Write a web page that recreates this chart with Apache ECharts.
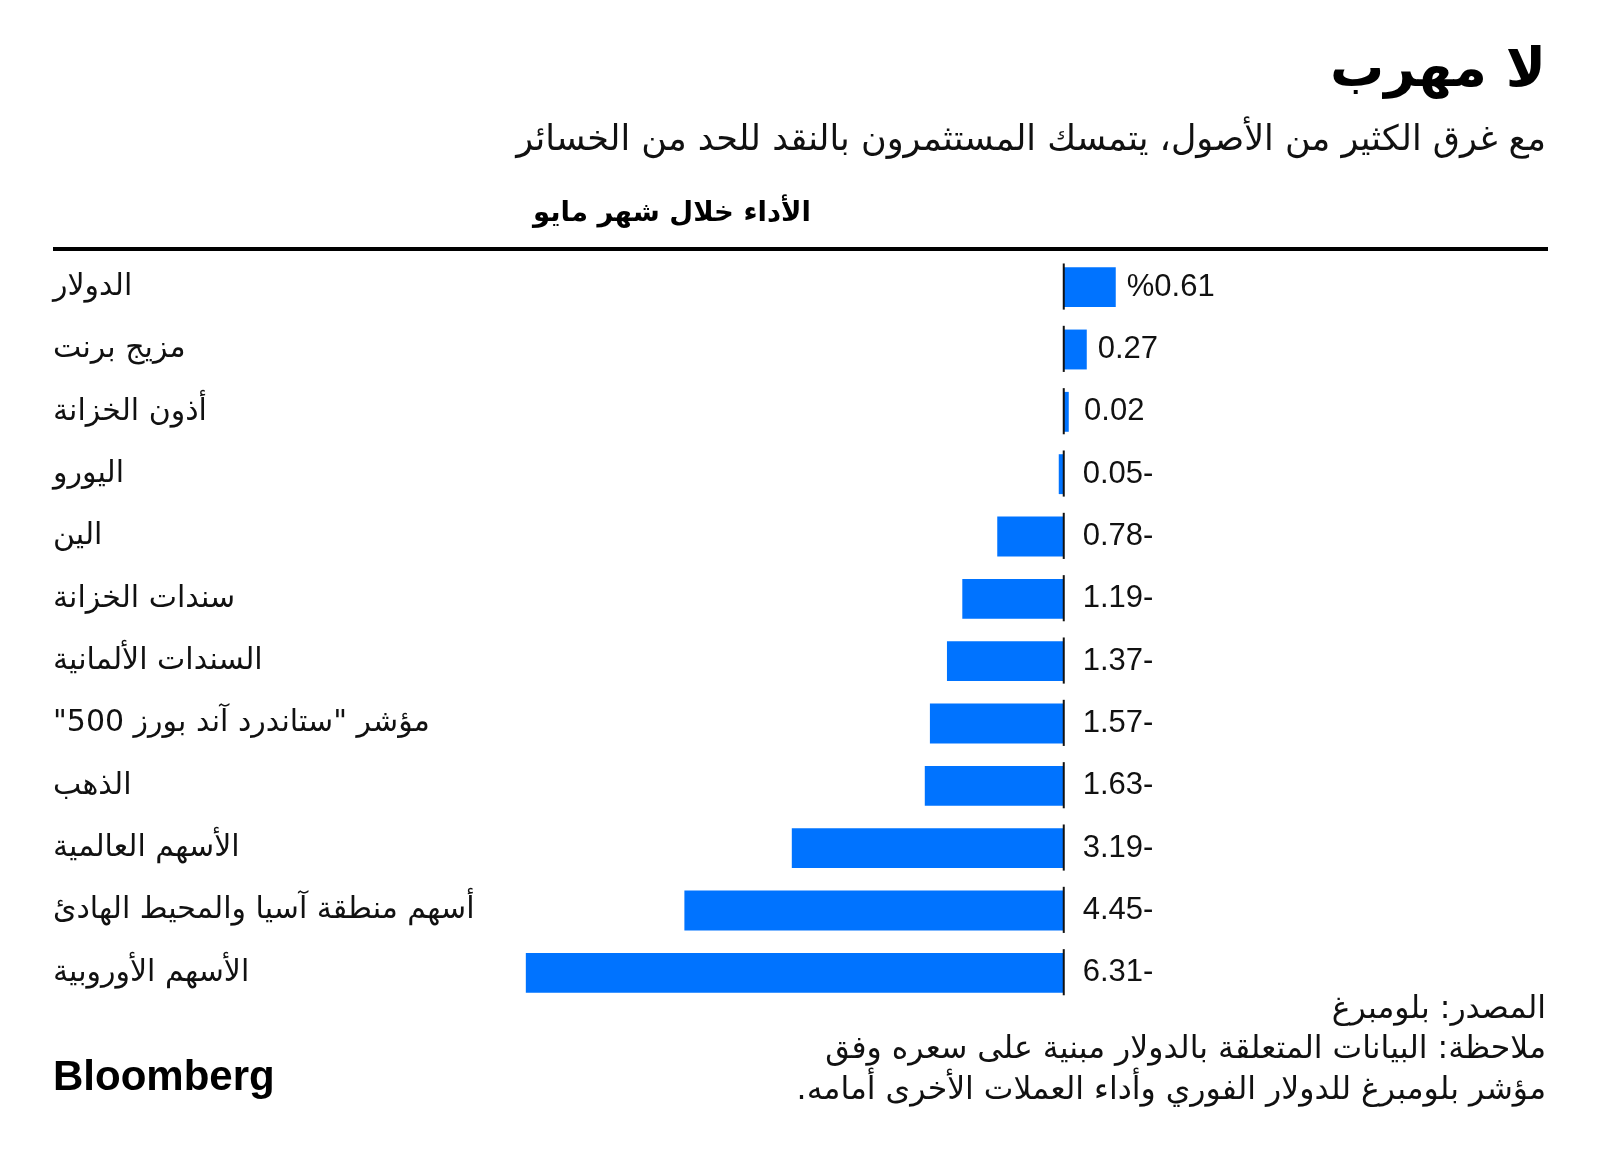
<!DOCTYPE html>
<html>
<head>
<meta charset="utf-8">
<script src="https://cdn.jsdelivr.net/npm/echarts@6/dist/echarts.min.js"></script>
<style>
html,body{margin:0;padding:0;background:#fff;}
#chart{width:1600px;height:1155px;direction:rtl;}
</style>
</head>
<body>
<div id="chart" dir="rtl"></div>
<script>
const categories = [
  'الدولار',
  'مزيج برنت',
  'أذون الخزانة',
  'اليورو',
  'الين',
  'سندات الخزانة',
  'السندات الألمانية',
  'مؤشر "ستاندرد آند بورز 500"',
  'الذهب',
  'الأسهم العالمية',
  'أسهم منطقة آسيا والمحيط الهادئ',
  'الأسهم الأوروبية'
];
const values = [0.61, 0.27, 0.02, -0.05, -0.78, -1.19, -1.37, -1.57, -1.63, -3.19, -4.45, -6.31];

const titleText = 'لا مهرب';
const subtitleText = 'مع غرق الكثير من الأصول، يتمسك المستثمرون بالنقد للحد من الخسائر';
const headerText = 'الأداء خلال شهر مايو';
const sourceText = 'المصدر: بلومبرغ';
const noteLines = [
  'ملاحظة: البيانات المتعلقة بالدولار مبنية على سعره وفق',
  'مؤشر بلومبرغ للدولار الفوري وأداء العملات الأخرى أمامه.'
];
const brandText = 'Bloomberg';

const BLUE = '#0073ff';
const AR = '"DejaVu Sans", "Noto Sans", sans-serif';
const NUM = '"Liberation Sans", Arial, sans-serif';

function fmt(v, i) {
  const s = Math.abs(v).toFixed(2);
  if (i === 0) return '%' + s;
  return v < 0 ? '-' + s : s;
}

const barData = values.map((v, i) => ({
  value: v,
  label: {
    show: true,
    position: 'right',
    distance: v < 0 ? 19 : Math.max(11, 17 - v * 85),
    formatter: () => fmt(v, i),
    fontFamily: NUM,
    fontSize: 31,
    color: '#111'
  }
}));

const chart = echarts.init(document.getElementById('chart'), null, {renderer: 'canvas'});
const gridLeft = 467;
chart.setOption({
  animation: false,
  backgroundColor: '#fff',
  grid: {left: gridLeft, right: 451, top: 256, bottom: 151, containLabel: false},
  xAxis: {
    type: 'value', min: -7, max: 1,
    axisLine: {show: false}, axisTick: {show: false},
    axisLabel: {show: false}, splitLine: {show: false}
  },
  yAxis: {
    type: 'category', inverse: true, data: categories,
    axisLine: {show: false, onZero: false}, axisTick: {show: false},
    axisLabel: {
      align: 'left', margin: gridLeft - 53,
      fontFamily: AR, fontSize: 30, color: '#111',
      padding: [0, 0, 14, 0]
    }
  },
  series: [
    {
      type: 'bar', data: barData, barCategoryGap: '36%', barMinHeight: 5,
      itemStyle: {color: BLUE}, z: 2
    },
    {
      type: 'custom', z: 3,
      data: categories.map((c, i) => [0, i]),
      encode: {x: 0, y: 1},
      renderItem: function (params, api) {
        const p = api.coord([0, api.value(1)]);
        const h = api.size([0, 1])[1];
        return {
          type: 'line',
          shape: {x1: p[0], y1: p[1] - h * 0.38, x2: p[0], y2: p[1] + h * 0.36},
          style: {stroke: '#111', lineWidth: 2}
        };
      }
    }
  ],
  graphic: [
    {type: 'text', x: 1546, y: 72, style: {text: titleText, font: 'bold 54px ' + AR, fill: '#000', align: 'right', verticalAlign: 'middle'}},
    {type: 'text', x: 1546, y: 141, style: {text: subtitleText, font: '35px ' + AR, fill: '#111', align: 'right', verticalAlign: 'middle'}},
    {type: 'text', x: 811, y: 214, style: {text: headerText, font: 'bold 27.5px ' + AR, fill: '#000', align: 'right', verticalAlign: 'middle'}},
    {type: 'rect', shape: {x: 53, y: 247, width: 1495, height: 4}, style: {fill: '#000'}},
    {type: 'text', x: 1546, y: 1010, style: {text: sourceText, font: '31.5px ' + AR, fill: '#111', align: 'right', verticalAlign: 'middle'}},
    {type: 'text', x: 1546, y: 1050, style: {text: noteLines[0], font: '31.5px ' + AR, fill: '#111', align: 'right', verticalAlign: 'middle'}},
    {type: 'text', x: 1546, y: 1091, style: {text: noteLines[1], font: '31.5px ' + AR, fill: '#111', align: 'right', verticalAlign: 'middle'}},
    {type: 'text', x: 53, y: 1078, style: {text: brandText, font: 'bold 42px ' + NUM, fill: '#000', align: 'left', verticalAlign: 'middle'}}
  ]
});
</script>
</body>
</html>
